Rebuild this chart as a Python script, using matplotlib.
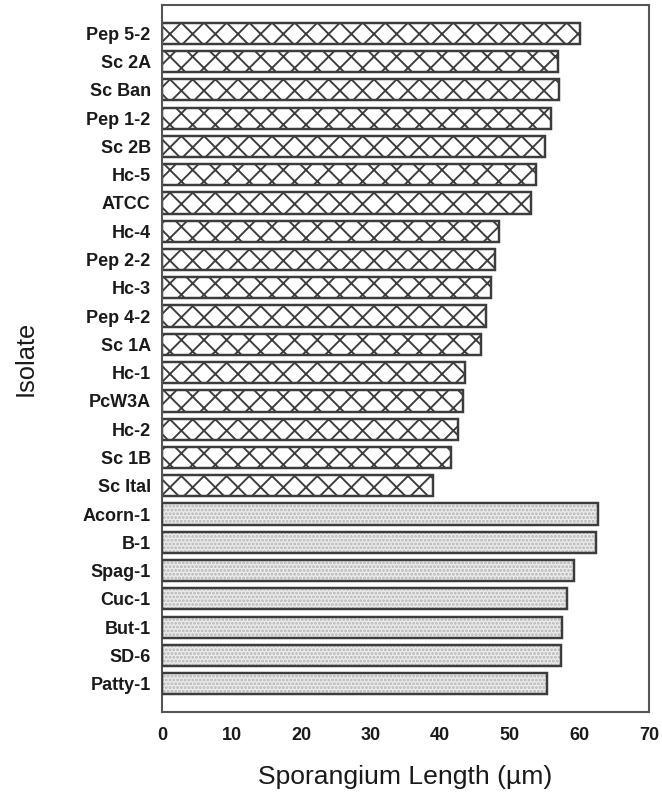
import matplotlib
matplotlib.use("Agg")
import matplotlib.pyplot as plt

plt.rcParams['font.family'] = ['Liberation Sans', 'DejaVu Sans']
plt.rcParams['hatch.linewidth'] = 1.0

# Isolates, top to bottom
isolates = ["Pep 5-2", "Sc 2A", "Sc Ban", "Pep 1-2", "Sc 2B", "Hc-5", "ATCC",
            "Hc-4", "Pep 2-2", "Hc-3", "Pep 4-2", "Sc 1A", "Hc-1", "PcW3A",
            "Hc-2", "Sc 1B", "Sc Ital",
            "Acorn-1", "B-1", "Spag-1", "Cuc-1", "But-1", "SD-6", "Patty-1"]
# Mean sporangium length (µm)
lengths = [60.1, 56.9, 57.0, 55.9, 55.0, 53.7, 53.0,
           48.4, 47.9, 47.3, 46.6, 45.9, 43.6, 43.3,
           42.6, 41.5, 38.9,
           62.6, 62.4, 59.2, 58.2, 57.5, 57.4, 55.3]
# Group of each isolate: 0 = cross-hatched, 1 = stippled
group = [0] * 17 + [1] * 7
xticks = [0, 10, 20, 30, 40, 50, 60, 70]

DPI = 136
fig = plt.figure(figsize=(662 / DPI, 798 / DPI), dpi=DPI)
ax = fig.add_axes([162 / 662, 1 - 712 / 798, (649 - 162) / 662, (712 - 5) / 798])

pos = list(range(len(isolates)))
edge = "#3c3c3c"
h = 0.75
for y, v, g in zip(pos, lengths, group):
    if g == 0:
        ax.barh(y, v, height=h, color="white", edgecolor=edge, hatch="xx",
                linewidth=1.3, zorder=2)
    else:
        ax.barh(y, v, height=h, color="#ebebeb", edgecolor="#b4b4b4",
                hatch="......", linewidth=0, zorder=2)
        ax.barh(y, v, height=h, fill=False, edgecolor=edge, linewidth=1.3,
                zorder=3)

ax.set_xlim(0, 70)
ax.set_ylim(len(isolates), -1)
ax.set_yticks(pos)
ax.set_yticklabels(isolates, fontsize=9.5, fontweight="bold", color="#1a1a1a")
ax.set_xticks(xticks)
ax.set_xticklabels([str(t) for t in xticks], fontsize=9.5, fontweight="bold",
                   color="#1a1a1a")
ax.tick_params(axis="both", length=0)
ax.tick_params(axis="y", pad=6)
ax.tick_params(axis="x", pad=8)

for s in ax.spines.values():
    s.set_color("#555555")
    s.set_linewidth(1.1)

ax.set_xlabel("Sporangium Length (µm)", fontsize=14, labelpad=11,
              color="#1a1a1a")
ax.set_ylabel("Isolate", fontsize=13.5, labelpad=24, color="#1a1a1a")

fig.savefig("out.png", dpi=DPI, facecolor="white")
